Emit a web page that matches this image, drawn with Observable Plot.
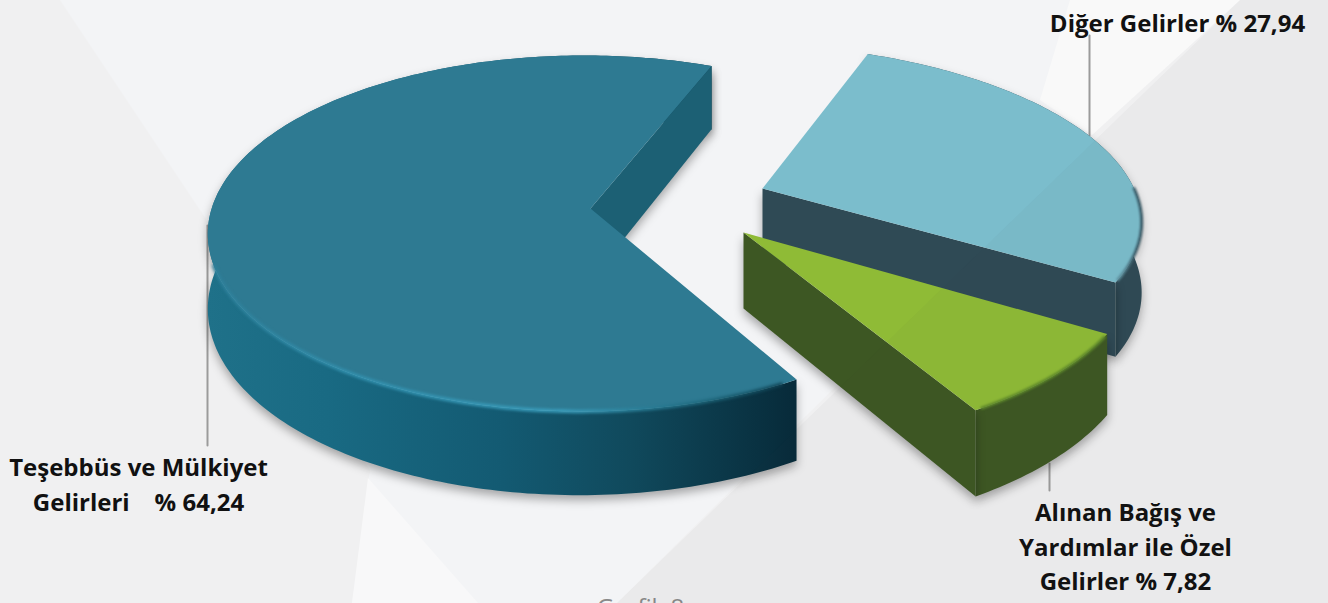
<!DOCTYPE html>
<html><head><meta charset="utf-8">
<script src="https://cdn.jsdelivr.net/npm/d3@7"></script>
<script src="https://cdn.jsdelivr.net/npm/@observablehq/plot@0.6"></script>
<style>
html,body{margin:0;padding:0;width:1328px;height:603px;overflow:hidden;background:#f0f0f1}
.bg{position:absolute;left:0;top:0;width:1328px;height:603px}
#chart{position:absolute;left:0;top:0}
</style></head><body>
<div class="bg" style="background:#f3f4f6;clip-path:polygon(60px 0,1240px 0,1090px 135px,617px 603px,352px 603px,370px 470px,210px 225px)"></div>
<div class="bg" style="background:#f9f9f9;clip-path:polygon(1070px 0,1240px 0,1092px 135px,1040px 100px)"></div>
<div class="bg" style="background:#f8f8f9;clip-path:polygon(368px 478px,352px 603px,478px 603px)"></div>
<div id="chart"></div>
<div class="bg" style="background:rgba(60,60,60,.03);clip-path:polygon(1240px 0,1328px 0,1328px 603px,617px 603px)"></div>
<script>
const names = ["Teşebbüs ve Mülkiyet\nGelirleri    % 64,24", "Diğer Gelirler % 27,94", "Alınan Bağış ve\nYardımlar ile Özel\nGelirler % 7,82"];
const shares = [64.24, 27.94, 7.82];
const topColors = ["#2e7a92", "#7bbdcc", "#8fbb36"];
const sideColors = ["url(#bigWall)", "#2f4a55", "#3d5723"];
const endColors = ["#1c6074", "#2f4a55", "#3d5723"];
const apexX = [590, 762, 743];
const apexY = [208, 188, 232];
const radii = [0.98, 1.0, 1.05];
const depths = [72, 70, 76];
const shear = [0, 22, 6];
const vertical = [178, 165, 172];
const labelX = [138, 1177, 1125];
const labelY = [482, 20, 544];
const leaderX = [207, 1089, 1049];
const leaderTop = [225, 35, 463];
const leaderBottom = [445, 135, 490];
const caption = "Grafik 8";

const A = 379, P = 0.143, Q = -0.02;
function proj(i, deg, lift = 0) {
  const t = deg * Math.PI / 180, r = radii[i];
  const u = r * Math.sin(t), v = -r * Math.cos(t);
  const w = 1 - P * v - Q * u;
  return {s: i, x: apexX[i] + (A * u + shear[i] * v) / w, y: apexY[i] + vertical[i] * v / w + lift / w};
}
function arc(i, a0, a1, lift = 0) {
  const out = [], n = Math.ceil(Math.abs(a1 - a0));
  for (let k = 0; k <= n; k++) out.push(proj(i, a0 + (a1 - a0) * k / n, lift));
  return out;
}
const startBig = 150.5;
const endBig = startBig + shares[0] * 3.6 - 360;
const spans = [
  [startBig, endBig + 360],
  [endBig, endBig + shares[1] * 3.6],
  [endBig - 0.5 + shares[1] * 3.6, endBig - 0.5 + (shares[1] + shares[2]) * 3.6]
];

const x = "x", y = "y";
const center = i => ({s: i, x: apexX[i], y: apexY[i]});
const centerLow = i => ({s: i, x: apexX[i], y: apexY[i] + depths[i]});
const face = i => [center(i), ...arc(i, spans[i][0], spans[i][1])];
const band = i => [...arc(i, spans[i][0], spans[i][1]), ...arc(i, spans[i][1], spans[i][0], depths[i])];
const cut = (i, deg) => [center(i), proj(i, deg), proj(i, deg, depths[i]), centerLow(i)];
const shadow = "drop-shadow(0 5px 5px rgba(0,0,0,.32))";

function defs() {
  const d = d3.create("svg:defs");
  const grad = (id, x1, x2, stops) => {
    const g = d.append("linearGradient").attr("id", id).attr("gradientUnits", "userSpaceOnUse")
      .attr("x1", x1).attr("x2", x2).attr("y1", 0).attr("y2", 0);
    stops.forEach(([o, c]) => g.append("stop").attr("offset", o).attr("stop-color", c));
  };
  grad("bigWall", 207, 797, [[0, "#1f7189"], [0.2, "#196a83"], [0.5, "#135a72"], [0.72, "#10495c"], [1, "#072a39"]]);
  grad("bigRim", 207, 797, [[0, "#2e7f99"], [0.25, "#3392b0"], [0.6, "#3ba0bf"], [0.85, "#1c6478"], [1, "#0c3b4c"]]);
  grad("sideRim", 1000, 1135, [[0, "#7bbdcc"], [0.6, "#7bbdcc"], [0.9, "#5b8d9b"], [1, "#3c5e6b"]]);
  return d.node();
}
const order = [0, 1, 2];
const marks = [defs];
leaderX.forEach((lx, i) => marks.push(Plot.line([{x: lx, y: leaderTop[i]}, {x: lx, y: leaderBottom[i]}], {x, y, stroke: "#9b9b9b", strokeWidth: 2})));
order.forEach(i => {
  marks.push(Plot.line(band(i), {x, y, fill: sideColors[i], stroke: "none", imageFilter: shadow}));
  const visibleCut = [spans[0][1], spans[1][1], spans[2][1]][i];
  marks.push(Plot.line(cut(i, visibleCut), {x, y, fill: endColors[i], stroke: "none", imageFilter: shadow}));
  marks.push(Plot.line(face(i), {x, y, fill: topColors[i], stroke: "none"}));
});
marks.push(Plot.line(arc(0, 153, 252), {x, y, stroke: "url(#bigRim)", strokeWidth: 3.5, imageFilter: "blur(1.4px)"}));
marks.push(Plot.line(arc(1, 90, spans[1][1] - 1), {x, y, stroke: "url(#sideRim)", strokeWidth: 3, imageFilter: "blur(1.2px)"}));
marks.push(Plot.line(arc(2, spans[2][0] + 1, spans[2][1] - 1), {x, y, stroke: "#5f8a2a", strokeWidth: 3, imageFilter: "blur(1.2px)"}));
marks.push(Plot.text(names, {x: (d, i) => labelX[i], y: (d, i) => labelY[i], text: d => d, fill: "#111",
  fontFamily: "Open Sans", fontWeight: 700, fontSize: 24, lineHeight: 1.45, textAnchor: "middle"}));
marks.push(Plot.text([caption], {x: [640], y: [608], text: d => d, fill: "#8a8a8a", fontFamily: "Open Sans", fontSize: 24, letterSpacing: 5}));

const plot = Plot.plot({
  width: 1328, height: 603, margin: 0,
  x: {domain: [0, 1328], range: [0, 1328], axis: null},
  y: {domain: [0, 603], range: [0, 603], axis: null},
  style: {background: "transparent"},
  marks
});
document.getElementById("chart").appendChild(plot);
</script>
</body></html>
